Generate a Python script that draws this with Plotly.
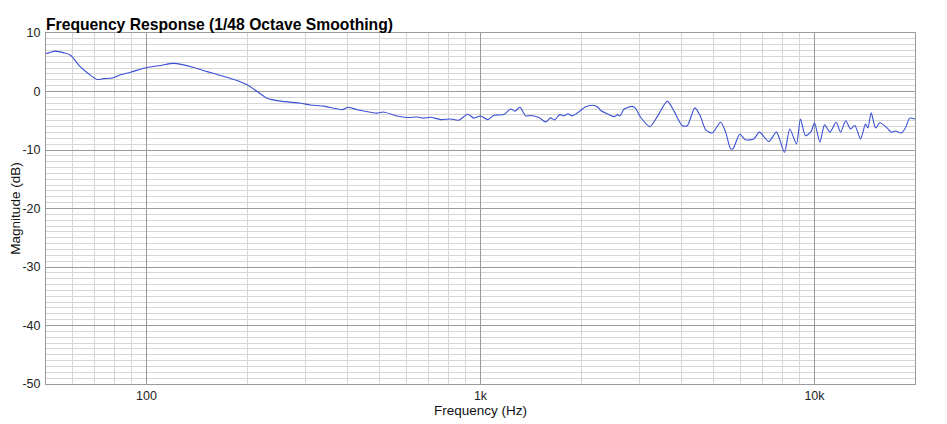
import plotly.graph_objects as go
import numpy as np

freq_hz = [50, 51, 53.4, 56.6, 59.2, 63.4, 67.2, 71.2, 74.5, 78.9, 83.6, 89.6, 100, 110, 120.7,
           138.6, 151.9, 166.5, 182.6, 200, 214.5, 229.8, 251.9, 289, 309.7, 339.6, 385.4,
           400.6, 427.3, 490.6, 511, 563, 603, 646, 676.7, 708.6, 759, 813, 861, 916, 955,
           1000, 1052, 1097, 1175, 1231, 1268, 1312, 1365, 1413, 1496, 1567, 1622, 1667,
           1726, 1778, 1828, 1884, 1995, 2051, 2163, 2249, 2291, 2426, 2512, 2571, 2618,
           2692, 2850, 2913, 3016, 3215, 3383, 3626, 3798, 4020, 4160, 4384, 4560, 4720,
           4943, 5236, 5420, 5610, 5700, 5975, 6212, 6580, 6845, 7300, 7693, 8130, 8435,
           8832, 9078, 9397, 9770, 10000, 10380, 10720, 11120, 11620, 11970, 12410, 12820,
           13210, 13740, 14220, 14450, 14790, 15240, 15700, 16520, 16980, 17500, 18200,
           18720, 19290, 20000]
magnitude_db = [6.5, 6.6, 6.9, 6.6, 6.2, 4.2, 3.0, 2.05, 2.2, 2.3, 2.85, 3.3, 4.1, 4.45, 4.8,
                4.1, 3.4, 2.75, 2.05, 1.15, 0.0, -1.15, -1.65, -2.0, -2.3, -2.5, -3.1,
                -2.7, -3.1, -3.7, -3.5, -4.2, -4.45, -4.35, -4.55, -4.4, -4.8, -4.7, -4.9, -3.9, -4.55,
                -4.2, -4.8, -4.05, -3.95, -3.0, -3.35, -2.7, -4.15, -4.1, -4.45, -5.2, -4.5, -4.85,
                -3.95, -4.15, -3.8, -4.15, -3.25, -2.7, -2.35, -2.7, -3.25, -3.95, -4.3, -3.95, -4.15,
                -3.0, -2.55, -2.9, -4.4, -6.0, -4.3, -1.65, -3.35, -5.85, -5.85, -2.8, -4.3, -6.5,
                -7.1, -5.25, -6.95, -9.8, -9.8, -7.3, -8.25, -8.1, -6.95, -8.55, -6.95, -10.4, -6.4,
                -8.95, -4.7, -7.55, -6.85, -5.35, -8.65, -5.7, -6.95, -5.25, -6.95, -5.0, -6.4,
                -5.8, -8.1, -5.55, -6.25, -3.65, -6.25, -5.35, -6.25, -6.95, -6.75, -7.1,
                -6.25, -4.55, -4.7]

x_major = [100, 1000, 10000]
x_major_labels = ["100", "1k", "10k"]
x_minor = [m * d for d in [10, 100, 1000, 10000] for m in range(2, 10) if 50 <= m * d <= 20000]
y_major = [10, 0, -10, -20, -30, -40, -50]
y_major_labels = ["10", "0", "-10", "-20", "-30", "-40", "-50"]
y_minor = [v for v in range(-50, 11) if v % 10 != 0]

fig = go.Figure()
fig.add_trace(go.Scatter(
    x=freq_hz, y=magnitude_db, mode="lines",
    line=dict(color="#3b4fd6", width=1.1, shape="spline", smoothing=0.7),
    showlegend=False, hoverinfo="skip"))

font = "Liberation Sans, Arial, sans-serif"
fig.update_layout(
    width=939, height=416,
    margin=dict(l=38, r=32, t=25, b=40),
    paper_bgcolor="white", plot_bgcolor="white",
    font=dict(family=font, size=12, color="#222"),
    xaxis=dict(
        type="log", range=[np.log10(50), np.log10(20000)], automargin=False,
        tickvals=x_major, ticktext=x_major_labels, ticks="",
        showgrid=True, gridcolor="#9a9a9a", gridwidth=1,
        showline=True, linecolor="#9a9a9a", linewidth=1, mirror=True,
        zeroline=False,
        minor=dict(tickvals=x_minor, showgrid=True, gridcolor="#d6d6d6", gridwidth=1, ticks=""),
        title=dict(text="Frequency (Hz)", font=dict(size=13.5, color="#111"), standoff=2),
        tickfont=dict(size=12.5, color="#222"),
    ),
    yaxis=dict(
        range=[-50, 10], automargin=False,
        tickvals=y_major, ticktext=y_major_labels, ticks="",
        showgrid=True, gridcolor="#9a9a9a", gridwidth=1,
        showline=True, linecolor="#9a9a9a", linewidth=1, mirror=True,
        zeroline=False,
        minor=dict(tickvals=y_minor, showgrid=True, gridcolor="#d6d6d6", gridwidth=1, ticks=""),
        title=dict(text="Magnitude (dB)", font=dict(size=13.5, color="#111"), standoff=7),
        tickfont=dict(size=12.5, color="#222"),
        ticklabelstandoff=2,
    ),
    annotations=[dict(
        text="<b>Frequency Response (1/48 Octave Smoothing)</b>",
        xref="paper", yref="paper", x=0, y=1, xanchor="left", yanchor="bottom",
        showarrow=False, yshift=-2, xshift=-2,
        font=dict(family=font, size=15.7, color="#000"))],
)

fig.write_html("out.html")
